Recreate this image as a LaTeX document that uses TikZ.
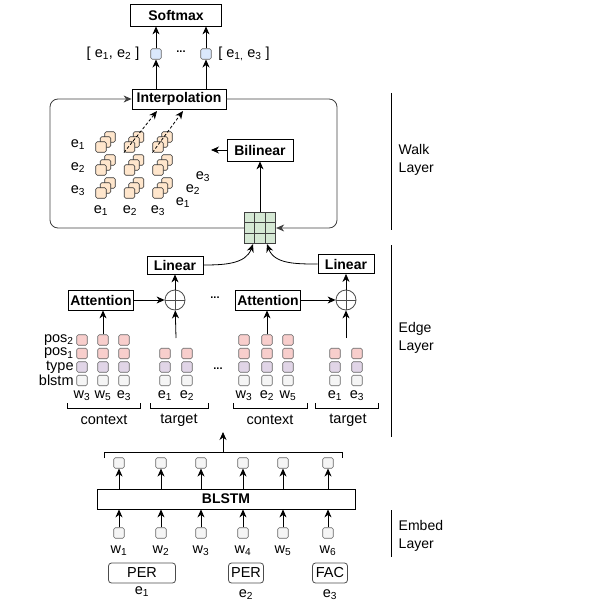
\documentclass[tikz,border=0pt]{standalone}
\usepackage{fontspec}
\setmainfont{Liberation Sans}
\usetikzlibrary{arrows.meta}
\definecolor{pinkfill}{HTML}{F8CECC}
\definecolor{purplefill}{HTML}{E1D5E7}
\definecolor{grayfill}{HTML}{F5F5F5}
\definecolor{bluefill}{HTML}{DAE8FC}
\definecolor{greenfill}{HTML}{D5E8D4}
\definecolor{peachfill}{HTML}{FFE6CC}

\begin{document}
\begin{tikzpicture}[x=1pt, y=-1pt, line width=0.8pt, >={Stealth[length=8pt,width=7pt,inset=2.5pt]},
  font=\fontsize{14.5}{16}\selectfont,
  box/.style = {draw, font=\fontsize{14}{16}\selectfont\bfseries, inner sep=0pt, minimum height=20pt},
  vec/.style = {draw=black!60, rounded corners=1.5pt, minimum size=10.5pt, inner sep=0pt, line width=0.6pt},
  cell/.style = {draw=black!75, fill=greenfill, minimum size=10.5pt, inner sep=0pt, line width=0.6pt},
  cube/.style = {draw=black!80, fill=peachfill, rounded corners=1.5pt, minimum size=10.5pt, inner sep=0pt, line width=0.6pt},
  ent/.style = {draw=black!70, rounded corners=3pt, minimum height=20pt, inner sep=1pt},
  plus/.style = {draw=black!70, circle, minimum size=20pt, inner sep=0pt},
  layer/.style = {anchor=west, align=left, font=\fontsize{14}{18}\selectfont},
  dots/.style = {font=\fontsize{11}{13}\selectfont\bfseries}]
\useasboundingbox (0,0) rectangle (598,607);

% walk layer
\node[box, minimum width=91pt, minimum height=22pt] (softmax) at (176,15) {Softmax};
\node[vec, fill=bluefill] (s1) at (156,54) {};
\node[vec, fill=bluefill] (s2) at (206,54) {};
\node[dots] (sdots) at (181,52) {...};
\node (pair1) at (113,54) {[ e\textsubscript{1}, e\textsubscript{2} ]};
\node (pair2) at (244,54) {[ e\textsubscript{1,} e\textsubscript{3} ]};
\node[box, minimum width=94pt] (interp) at (179,99) {Interpolation};
\draw[->] (s1) -- (softmax.south -| s1);
\draw[->] (s2) -- (softmax.south -| s2);
\draw[->] (interp.north -| s1) -- (s1);
\draw[->] (interp.north -| s2) -- (s2);

\node[inner sep=0pt, minimum size=31.5pt] (grid) at (260,228) {};
\foreach \i in {-1,0,1}
  \foreach \j in {-1,0,1}
    \node[cell] at ([shift={(10.5*\i,10.5*\j)}]grid.center) {};

\coordinate (wr) at (337,228);
\coordinate (wl) at (50,99);
\draw[->, rounded corners=8pt, draw=black!75] (interp.east) -| (wr) -- (grid.east);
\draw[->, rounded corners=8pt, draw=black!75] (grid.west) -| (wl) -- (interp.west);

\node[box, minimum width=66pt, minimum height=22pt] (bilin) at (260,150) {Bilinear};
\coordinate (bout) at (211,150);
\draw[->] (grid) -- (bilin);
\draw[->] (bilin) -- (bout);

% score cubes
\foreach \x [count=\c] in {101,129.5,158}
  \foreach \y [count=\r] in {147,170,193} {
    \node[cube] at (\x+9,\y-10) {};
    \node[cube] at (\x+4.5,\y-5) {};
    \node[cube] (f\c\r) at (\x,\y) {};
  }
\foreach \y [count=\r] in {145,168,191}
  \node (re\r) at (78,\y) {e\textsubscript{\r}};
\foreach \x [count=\c] in {101,130,158}
  \node (ce\c) at (\x,211) {e\textsubscript{\c}};
\node (de1) at (183,203) {e\textsubscript{1}};
\node (de2) at (193,190) {e\textsubscript{2}};
\node (de3) at (203,177) {e\textsubscript{3}};
\coordinate (d1) at (157,111);
\coordinate (d2) at (183,111);
\draw[->, densely dashed] (f21.south west) -- (d1);
\draw[->, densely dashed] (f31.south west) -- (d2);

\draw (391,93) -- (391,230);
\node[layer] (walk) at (395,160) {Walk\\Layer};

% edge layer
\node[box, minimum width=56pt, minimum height=18pt] (linL) at (175,265) {Linear};
\node[box, minimum width=56pt, minimum height=19pt] (linR) at (346,264) {Linear};
\node[box, minimum width=65pt] (attL) at (101,300) {Attention};
\node[box, minimum width=65pt] (attR) at (268,300) {Attention};
\node[plus] (pL) at (175,300) {};
\node[plus] (pR) at (346,300) {};
\draw[draw=black!70, line width=0.6pt] (pL.north) -- (pL.south) (pL.west) -- (pL.east);
\draw[draw=black!70, line width=0.6pt] (pR.north) -- (pR.south) (pR.west) -- (pR.east);
\node[dots] (ed1) at (215,298) {...};
\node[dots] (ed2) at (218,369) {...};

\foreach \x/\w [count=\k] in {82/w\textsubscript{3},103/w\textsubscript{5},124/e\textsubscript{3},244/w\textsubscript{3},267/e\textsubscript{2},288/w\textsubscript{5}} {
  \node[vec, fill=pinkfill] (ca\k) at (\x,340) {};
  \node[vec, fill=pinkfill] (cb\k) at (\x,353.5) {};
  \node[vec, fill=purplefill] (cc\k) at (\x,367) {};
  \node[vec, fill=grayfill] (cd\k) at (\x,380.5) {};
  \node (cw\k) at (\x,396) {\w};
}
\foreach \x/\w [count=\k] in {165/e\textsubscript{1},187/e\textsubscript{2},335/e\textsubscript{1},357/e\textsubscript{3}} {
  \node[vec, fill=pinkfill] (tb\k) at (\x,353.5) {};
  \node[vec, fill=purplefill] (tc\k) at (\x,367) {};
  \node[vec, fill=grayfill] (td\k) at (\x,380.5) {};
  \node (tw\k) at (\x,396) {\w};
}
\foreach \y/\t [count=\k] in {340/pos\textsubscript{2},353.5/pos\textsubscript{1},367/type,380.5/blstm}
  \node[anchor=east, inner sep=1pt] (rl\k) at (75,\y) {\t};

\coordinate (tL) at (176,338);
\coordinate (tR) at (346,338);
\draw[->] (ca2) -- (attL.south -| ca2);
\draw[->] (ca5) -- (attR.south -| ca5);
\draw[->] (tL) -- (pL);
\draw[->] (tR) -- (pR);
\draw[->] (attL) -- (pL);
\draw[->] (attR) -- (pR);
\draw[->] (pL) -- (linL);
\draw[->] (pR) -- (linR);
\draw[->] (linL.east) to[out=0, in=-110] ([xshift=-7pt]grid.south);
\draw[->] (linR.west) to[out=180, in=-70] ([xshift=7pt]grid.south);

\draw (67,403) -- (67,408) -- (140,408) -- (140,403);
\node (ctxL) at (104,420) {context};
\draw (150,403) -- (150,408) -- (208,408) -- (208,403);
\node (tgtL) at (179,420) {target};
\draw (233,403) -- (233,408) -- (307,408) -- (307,403);
\node (ctxR) at (270,420) {context};
\draw (315,403) -- (315,408) -- (378,408) -- (378,403);
\node (tgtR) at (348,420) {target};

\draw (391,245) -- (391,437);
\node[layer] (edge) at (395,338) {Edge\\Layer};

% embed layer
\node[box, minimum width=258pt] (blstm) at (226,499) {BLSTM};
\foreach \x [count=\k] in {119,161,201,243,283,328} {
  \node[vec, fill=grayfill] (h\k) at (\x,463) {};
  \node[vec, fill=grayfill] (x\k) at (\x,533) {};
  \node (wt\k) at (\x,551) {w\textsubscript{\k}};
  \draw[->] (blstm.north -| h\k) -- (h\k);
  \draw[->] (x\k) -- (x\k |- blstm.south);
}
\draw (104,458) -- (104,452) -- (342,452) -- (342,458);
\coordinate (bt) at (223,452);
\coordinate (et) at (223,432);
\draw[->] (bt) -- (et);

\node[ent, minimum width=67pt] (per1) at (142,573) {PER};
\node[ent, minimum width=35pt] (per2) at (246,573) {PER};
\node[ent, minimum width=35pt] (fac) at (330,573) {FAC};
\node (ee1) at (142,592) {e\textsubscript{1}};
\node (ee2) at (246,595) {e\textsubscript{2}};
\node (ee3) at (330,595) {e\textsubscript{3}};

\draw (391,510) -- (391,557);
\node[layer] (embed) at (395,536) {Embed\\Layer};
\end{tikzpicture}
\end{document}
